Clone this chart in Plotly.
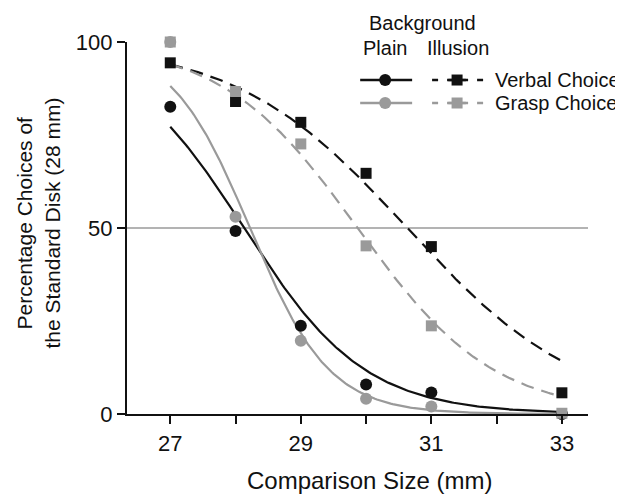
import numpy as np
import plotly.graph_objects as go

# ---- data ----
sizes = [27, 28, 29, 30, 31, 33]
verbal_plain = [82.6, 49.2, 23.7, 7.9, 5.8, 0.0]
grasp_plain = [100.0, 53.0, 19.7, 4.1, 2.0, 0.0]
verbal_illusion = [94.4, 84.0, 78.4, 64.7, 45.0, 5.7]
grasp_illusion = [100.0, 86.7, 72.6, 45.2, 23.7, 0.2]

# fitted psychometric (logistic) curve parameters: [PSE, spread]
fit_verbal_plain = [28.13, 0.926]
fit_grasp_plain = [28.22, 0.607]
fit_verbal_illusion = [30.63, 1.32]
fit_grasp_illusion = [29.87, 1.04]

x_ticks = [27, 28, 29, 30, 31, 32, 33]
x_tick_labels = ["27", "", "29", "", "31", "", "33"]
y_ticks = [0, 50, 100]

BLACK = "#111111"
GREY = "#9a9a9a"
FONT = "Liberation Sans, Arial, sans-serif"


def logistic(x, p):
    return 100.0 / (1.0 + np.exp((x - p[0]) / p[1]))


xc = np.linspace(27, 33, 200)

fig = go.Figure()

# 50% reference line
fig.add_shape(type="line", xref="paper", yref="y", x0=0, x1=1, y0=50, y1=50,
              line=dict(color=GREY, width=1.6), layer="below")

# fitted curves
fig.add_trace(go.Scatter(x=xc, y=logistic(xc, fit_verbal_plain), mode="lines",
                         line=dict(color=BLACK, width=2.2), hoverinfo="skip"))
fig.add_trace(go.Scatter(x=xc, y=logistic(xc, fit_grasp_plain), mode="lines",
                         line=dict(color=GREY, width=2.2), hoverinfo="skip"))
fig.add_trace(go.Scatter(x=xc, y=logistic(xc, fit_verbal_illusion), mode="lines",
                         line=dict(color=BLACK, width=2.2, dash="13px,8px"), hoverinfo="skip"))
fig.add_trace(go.Scatter(x=xc, y=logistic(xc, fit_grasp_illusion), mode="lines",
                         line=dict(color=GREY, width=2.2, dash="13px,8px"), hoverinfo="skip"))

# data points
fig.add_trace(go.Scatter(x=sizes, y=grasp_plain, mode="markers", name="Grasp Plain",
                         marker=dict(symbol="circle", size=12, color=GREY)))
fig.add_trace(go.Scatter(x=sizes, y=verbal_plain, mode="markers", name="Verbal Plain",
                         marker=dict(symbol="circle", size=12, color=BLACK)))
fig.add_trace(go.Scatter(x=sizes, y=verbal_illusion, mode="markers", name="Verbal Illusion",
                         marker=dict(symbol="square", size=11, color=BLACK)))
fig.add_trace(go.Scatter(x=sizes, y=grasp_illusion, mode="markers", name="Grasp Illusion",
                         marker=dict(symbol="square", size=11, color=GREY)))

for tr in fig.data:
    tr.cliponaxis = False

# ---- custom legend ----
rows = [(0.8978, BLACK, "Verbal Choice"), (0.836, GREY, "Grasp Choice")]
for yrow, col, label in rows:
    fig.add_shape(type="line", xref="paper", yref="paper", x0=0.5058, x1=0.6185,
                  y0=yrow, y1=yrow, line=dict(color=col, width=2.4))
    fig.add_shape(type="circle", xref="paper", yref="paper", xsizemode="pixel", ysizemode="pixel",
                  xanchor=0.56, yanchor=yrow, x0=-6, x1=6, y0=-6, y1=6,
                  fillcolor=col, line=dict(color=col, width=0))
    fig.add_shape(type="line", xref="paper", yref="paper", x0=0.6618, x1=0.7725,
                  y0=yrow, y1=yrow, line=dict(color=col, width=2.4, dash="6px,9px"))
    fig.add_shape(type="line", xref="paper", yref="paper", x0=0.697, x1=0.735,
                  y0=yrow, y1=yrow, line=dict(color=col, width=2.4))
    fig.add_shape(type="rect", xref="paper", yref="paper", xsizemode="pixel", ysizemode="pixel",
                  xanchor=0.716, yanchor=yrow, x0=-5.5, x1=5.5, y0=-5.5, y1=5.5,
                  fillcolor=col, line=dict(color=col, width=0))
    fig.add_annotation(x=0.794, y=yrow, xref="paper", yref="paper", text=label,
                       showarrow=False, xanchor="left", yanchor="middle",
                       font=dict(size=20, color=BLACK, family=FONT))

fig.add_annotation(x=0.640, y=1.051, xref="paper", yref="paper", text="Background",
                   showarrow=False, xanchor="center", yanchor="middle",
                   font=dict(size=20, color=BLACK, family=FONT))
fig.add_annotation(x=0.56, y=0.984, xref="paper", yref="paper", text="Plain",
                   showarrow=False, xanchor="center", yanchor="middle",
                   font=dict(size=20, color=BLACK, family=FONT))
fig.add_annotation(x=0.718, y=0.984, xref="paper", yref="paper", text="Illusion",
                   showarrow=False, xanchor="center", yanchor="middle",
                   font=dict(size=20, color=BLACK, family=FONT))

# axis titles
fig.add_annotation(x=0.525, y=-0.18, xref="paper", yref="paper", text="Comparison Size (mm)",
                   showarrow=False, xanchor="center", yanchor="middle",
                   font=dict(size=24, color=BLACK, family=FONT))
fig.add_annotation(x=-0.2226, y=0.513, xref="paper", yref="paper", text="Percentage Choices of",
                   showarrow=False, xanchor="center", yanchor="middle", textangle=-90,
                   font=dict(size=21, color=BLACK, family=FONT))
fig.add_annotation(x=-0.162, y=0.513, xref="paper", yref="paper", text="the Standard Disk (28 mm)",
                   showarrow=False, xanchor="center", yanchor="middle", textangle=-90,
                   font=dict(size=21, color=BLACK, family=FONT))

# the page body has an 8px default margin, so the figure is slightly smaller than the window
fig.update_layout(
    width=615, height=487,
    margin=dict(l=119, r=35, t=34, b=81, autoexpand=False),
    plot_bgcolor="white", paper_bgcolor="white",
    showlegend=False,
    font=dict(family=FONT, color=BLACK),
)
fig.update_xaxes(
    range=[26.337, 33.40], tickvals=x_ticks, ticktext=x_tick_labels, automargin=False,
    showgrid=False, zeroline=False, showline=True, linecolor=BLACK, linewidth=2.2,
    ticks="outside", ticklen=8, tickwidth=2, tickcolor=BLACK,
    tickfont=dict(size=22, family=FONT, color=BLACK),
)
fig.update_yaxes(
    range=[0, 100], tickvals=y_ticks, automargin=False,
    showgrid=False, zeroline=False, showline=True, linecolor=BLACK, linewidth=2.2,
    ticks="outside", ticklen=8, tickwidth=2, tickcolor=BLACK,
    tickfont=dict(size=22, family=FONT, color=BLACK),
)

fig.write_html("out.html")
